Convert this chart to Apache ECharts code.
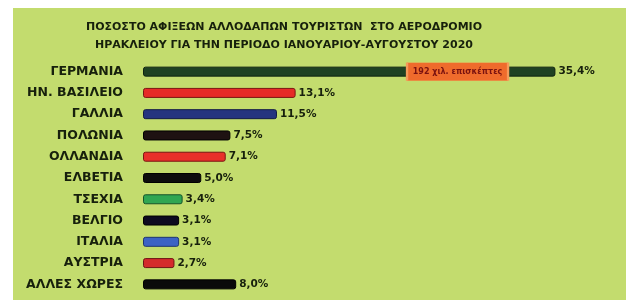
<!DOCTYPE html>
<html>
<head>
<meta charset="utf-8">
<script src="https://cdn.jsdelivr.net/npm/echarts@6/dist/echarts.min.js"></script>
<style>
  html, body { margin: 0; padding: 0; background: #fff; }
  #chart { width: 626px; height: 301px; }
</style>
</head>
<body>
<div id="chart"></div>
<script>
// data
const countries = ['ΓΕΡΜΑΝΙΑ', 'ΗΝ. ΒΑΣΙΛΕΙΟ', 'ΓΑΛΛΙΑ', 'ΠΟΛΩΝΙΑ', 'ΟΛΛΑΝΔΙΑ', 'ΕΛΒΕΤΙΑ',
  'ΤΣΕΧΙΑ', 'ΒΕΛΓΙΟ', 'ΙΤΑΛΙΑ', 'ΑΥΣΤΡΙΑ', 'ΑΛΛΕΣ ΧΩΡΕΣ'];
const shares = [35.4, 13.1, 11.5, 7.5, 7.1, 5.0, 3.4, 3.1, 3.1, 2.7, 8.0];
const barColors = ['#1f4222', '#e62b27', '#25347f', '#1e1212', '#e8302a', '#0d0d0d',
  '#2fa652', '#0d0b1f', '#3b63c4', '#d42b2b', '#0a0a0a'];
const edgeColors = ['#0f2411', '#7a1512', '#121a45', '#000000', '#7a1512', '#000000',
  '#15542a', '#000000', '#1d3470', '#6e1414', '#000000'];
const noteText = '192 χιλ. επισκέπτες';
const noteAt = 27;

const chart = echarts.init(document.getElementById('chart'));

const fmt = v => v.toFixed(1).replace('.', ',') + '%';

chart.setOption({
  animation: false,
  backgroundColor: '#fff',
  textStyle: { fontFamily: 'DejaVu Sans' },
  graphic: [{
    type: 'rect',
    left: 13, top: 8, z: -10,
    shape: { width: 613, height: 292 },
    style: { fill: '#c3dc6e' }
  }],
  title: {
    text: 'ΠΟΣΟΣΤΟ ΑΦΙΞΕΩΝ ΑΛΛΟΔΑΠΩΝ ΤΟΥΡΙΣΤΩΝ  ΣΤΟ ΑΕΡΟΔΡΟΜΙΟ\nΗΡΑΚΛΕΙΟΥ ΓΙΑ ΤΗΝ ΠΕΡΙΟΔΟ ΙΑΝΟΥΑΡΙΟΥ-ΑΥΓΟΥΣΤΟΥ 2020',
    left: 279, top: 13,
    textAlign: 'center',
    textStyle: {
      fontFamily: 'DejaVu Sans', fontWeight: 'bold', fontSize: 11,
      lineHeight: 18, color: '#17200c'
    }
  },
  grid: { left: 143, right: 17, top: 61, bottom: 6 },
  xAxis: {
    type: 'value', min: 0, max: 40, show: false
  },
  yAxis: {
    type: 'category', data: countries, inverse: true,
    axisLine: { show: false }, axisTick: { show: false },
    axisLabel: {
      margin: 20, color: '#17200c', fontWeight: 'bold', fontSize: 12.5,
      fontFamily: 'DejaVu Sans'
    }
  },
  series: [{
    type: 'bar',
    barWidth: 10,
    data: shares.map((v, i) => ({
      value: v,
      itemStyle: { color: barColors[i], borderColor: edgeColors[i], borderWidth: 1, borderRadius: 2 }
    })),
    label: {
      show: true, position: 'right', distance: 3,
      formatter: p => fmt(p.value),
      color: '#17200c', fontWeight: 'bold', fontSize: 10.5, fontFamily: 'DejaVu Sans'
    },
    markPoint: {
      silent: true,
      data: [{
        coord: [noteAt, countries[0]],
        symbol: 'rect', symbolSize: [101, 18],
        itemStyle: { color: '#ef6b2c', borderColor: '#f59a5a', borderWidth: 1 },
        label: {
          show: true, position: 'inside', formatter: noteText,
          color: '#7a1210', fontSize: 8, fontWeight: 'bold', fontFamily: 'DejaVu Sans'
        }
      }]
    }
  }]
});
</script>
</body>
</html>
